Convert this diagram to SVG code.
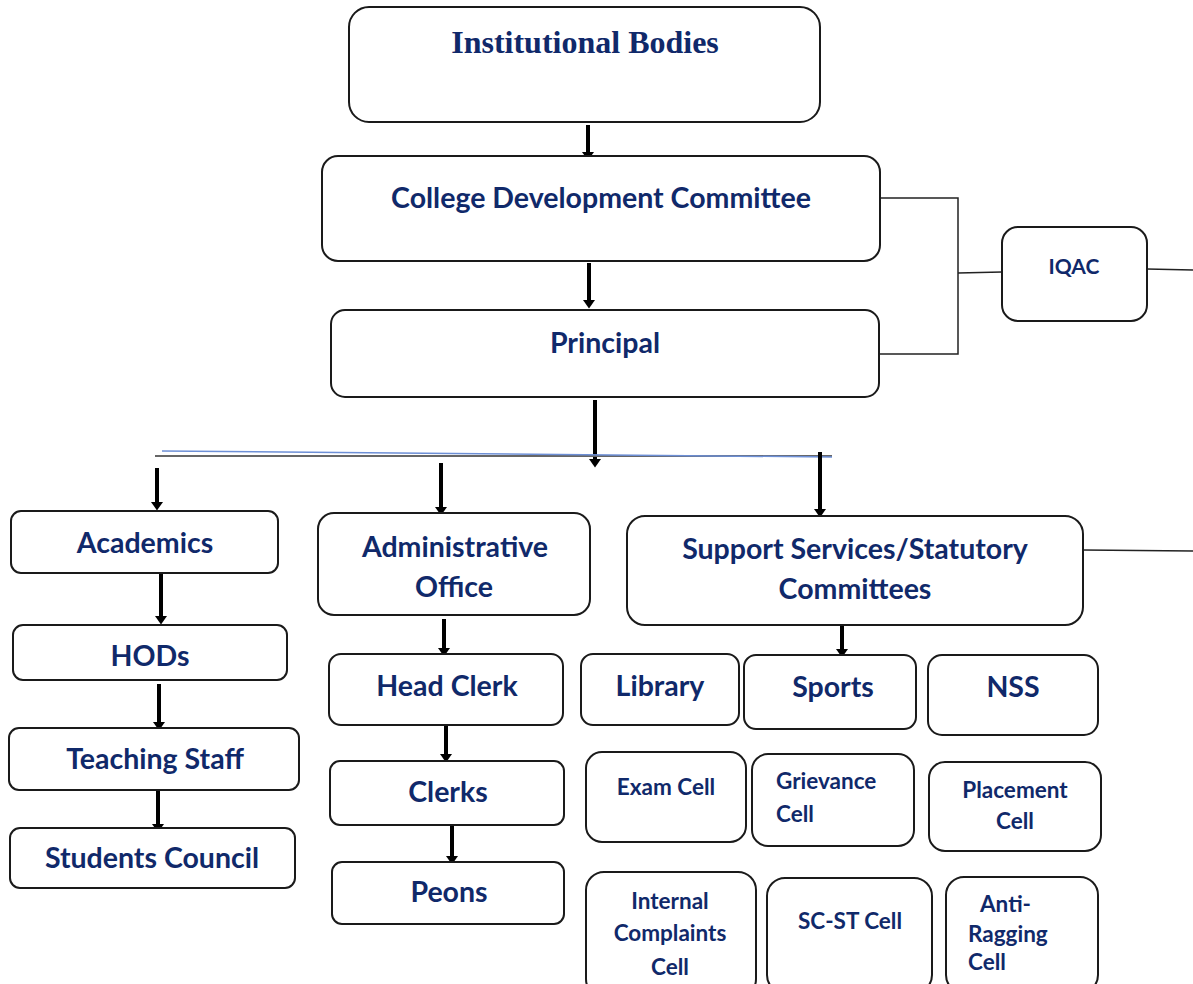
<svg xmlns="http://www.w3.org/2000/svg" width="1193" height="984" viewBox="0 0 1193 984">
<defs>
<marker id="ah" markerUnits="userSpaceOnUse" markerWidth="12" markerHeight="12" viewBox="0 0 8 10" refX="0" refY="5" orient="auto">
<path d="M0,0 L7,5 L0,10 z" fill="#000"/>
</marker>
<style>
.box{fill:#fff;stroke:#1a1a1a;stroke-width:2}
.t{font-family:Lato,"Open Sans","Liberation Sans",sans-serif;font-weight:bold;fill:#10296a;text-anchor:middle}
.tl{font-family:Lato,"Open Sans","Liberation Sans",sans-serif;font-weight:bold;fill:#10296a}
.big{font-size:28.5px}
.sm{font-size:22.5px}
.ar{stroke:#000;stroke-width:4;fill:none}
.thin{stroke:#222;stroke-width:1.5;fill:none}
</style>
</defs>
<rect width="1193" height="984" fill="#fff"/>

<g id="connectors">
<line class="ar" x1="588" y1="125" x2="588" y2="152" marker-end="url(#ah)"/>
<line class="ar" x1="589" y1="263" x2="589" y2="300" marker-end="url(#ah)"/>
<path class="thin" d="M880,198 H958 V354 H880"/>
<line class="thin" x1="958" y1="273" x2="1002" y2="272"/>
<line class="thin" x1="1147" y1="269" x2="1193" y2="270"/>
<line class="ar" x1="595" y1="400" x2="595" y2="459" marker-end="url(#ah)"/>
<line x1="155" y1="456" x2="832" y2="456" stroke="#666" stroke-width="2"/>
<line x1="162" y1="451" x2="832" y2="457" stroke="#6d8fd6" stroke-width="1.5"/>
<line class="ar" x1="157" y1="468" x2="157" y2="502" marker-end="url(#ah)"/>
<line class="ar" x1="441" y1="463" x2="441" y2="507" marker-end="url(#ah)"/>
<line class="ar" x1="820" y1="452" x2="820" y2="509" marker-end="url(#ah)"/>
<line class="ar" x1="161" y1="574" x2="161" y2="616" stroke-width="6" marker-end="url(#ah)"/>
<line class="ar" x1="159" y1="684" x2="159" y2="722" marker-end="url(#ah)"/>
<line class="ar" x1="158" y1="789" x2="158" y2="824" stroke-width="6" marker-end="url(#ah)"/>
<line class="ar" x1="444" y1="619" x2="444" y2="648" marker-end="url(#ah)"/>
<line class="ar" x1="446" y1="722" x2="446" y2="754" marker-end="url(#ah)"/>
<line class="ar" x1="452" y1="826" x2="452" y2="856" marker-end="url(#ah)"/>
<line class="thin" x1="1083" y1="550" x2="1193" y2="551"/>
<line class="ar" x1="842" y1="619" x2="842" y2="649" marker-end="url(#ah)"/>
</g>

<g id="institutional-bodies">
<rect class="box" x="349" y="7" width="471" height="115" rx="20"/>
<text x="585" y="53" font-family="'Liberation Serif','Times New Roman',serif" font-weight="bold" font-size="32" fill="#10296a" text-anchor="middle">Institutional Bodies</text>
</g>
<g id="cdc">
<rect class="box" x="322" y="156" width="558" height="105" rx="16"/>
<text class="t big" x="601" y="208">College Development Committee</text>
</g>
<g id="principal">
<rect class="box" x="331" y="310" width="548" height="87" rx="14"/>
<text class="t big" x="605" y="353">Principal</text>
</g>
<g id="iqac">
<rect class="box" x="1002" y="227" width="145" height="94" rx="16"/>
<text class="t" font-size="21" x="1074" y="274">IQAC</text>
</g>

<g id="academics">
<rect class="box" x="11" y="511" width="267" height="62" rx="10"/>
<text class="t big" x="145" y="553">Academics</text>
</g>
<g id="hods">
<rect class="box" x="13" y="625" width="274" height="55" rx="10"/>
<text class="t big" x="150" y="666">HODs</text>
</g>
<g id="teaching-staff">
<rect class="box" x="9" y="728" width="290" height="62" rx="10"/>
<text class="t big" x="155" y="769">Teaching Staff</text>
</g>
<g id="students-council">
<rect class="box" x="10" y="828" width="285" height="60" rx="10"/>
<text class="t big" x="152" y="868">Students Council</text>
</g>

<g id="administrative-office">
<rect class="box" x="318" y="513" width="272" height="102" rx="16"/>
<text class="t big" x="455" y="557">Administrative</text>
<text class="t big" x="454" y="597">Office</text>
</g>
<g id="head-clerk">
<rect class="box" x="329" y="654" width="234" height="71" rx="12"/>
<text class="t big" x="447" y="696">Head Clerk</text>
</g>
<g id="clerks">
<rect class="box" x="330" y="761" width="234" height="64" rx="10"/>
<text class="t big" x="448" y="802">Clerks</text>
</g>
<g id="peons">
<rect class="box" x="332" y="862" width="232" height="62" rx="10"/>
<text class="t big" x="449" y="902">Peons</text>
</g>

<g id="support-services">
<rect class="box" x="627" y="516" width="456" height="109" rx="18"/>
<text class="t big" x="855" y="559">Support Services/Statutory</text>
<text class="t big" x="855" y="599">Committees</text>
</g>
<g id="library">
<rect class="box" x="581" y="654" width="158" height="71" rx="12"/>
<text class="t big" x="660" y="696">Library</text>
</g>
<g id="sports">
<rect class="box" x="744" y="655" width="172" height="74" rx="12"/>
<text class="t big" x="833" y="697">Sports</text>
</g>
<g id="nss">
<rect class="box" x="928" y="655" width="170" height="80" rx="14"/>
<text class="t big" x="1013" y="697">NSS</text>
</g>
<g id="exam-cell">
<rect class="box" x="586" y="752" width="160" height="90" rx="16"/>
<text class="t sm" x="666" y="795">Exam Cell</text>
</g>
<g id="grievance-cell">
<rect class="box" x="752" y="754" width="162" height="92" rx="16"/>
<text class="tl sm" x="776" y="789">Grievance</text>
<text class="tl sm" x="776" y="822">Cell</text>
</g>
<g id="placement-cell">
<rect class="box" x="929" y="762" width="172" height="89" rx="16"/>
<text class="t sm" x="1015" y="798">Placement</text>
<text class="t sm" x="1015" y="829">Cell</text>
</g>
<g id="internal-complaints-cell">
<rect class="box" x="586" y="872" width="170" height="125" rx="18"/>
<text class="t sm" x="670" y="909">Internal</text>
<text class="t sm" x="670" y="941">Complaints</text>
<text class="t sm" x="670" y="975">Cell</text>
</g>
<g id="sc-st-cell">
<rect class="box" x="767" y="878" width="165" height="115" rx="18"/>
<text class="t sm" x="850" y="929">SC-ST Cell</text>
</g>
<g id="anti-ragging-cell">
<rect class="box" x="946" y="877" width="152" height="116" rx="18"/>
<text class="tl sm" x="980" y="912">Anti-</text>
<text class="tl sm" x="968" y="942">Ragging</text>
<text class="tl sm" x="968" y="970">Cell</text>
</g>
</svg>
